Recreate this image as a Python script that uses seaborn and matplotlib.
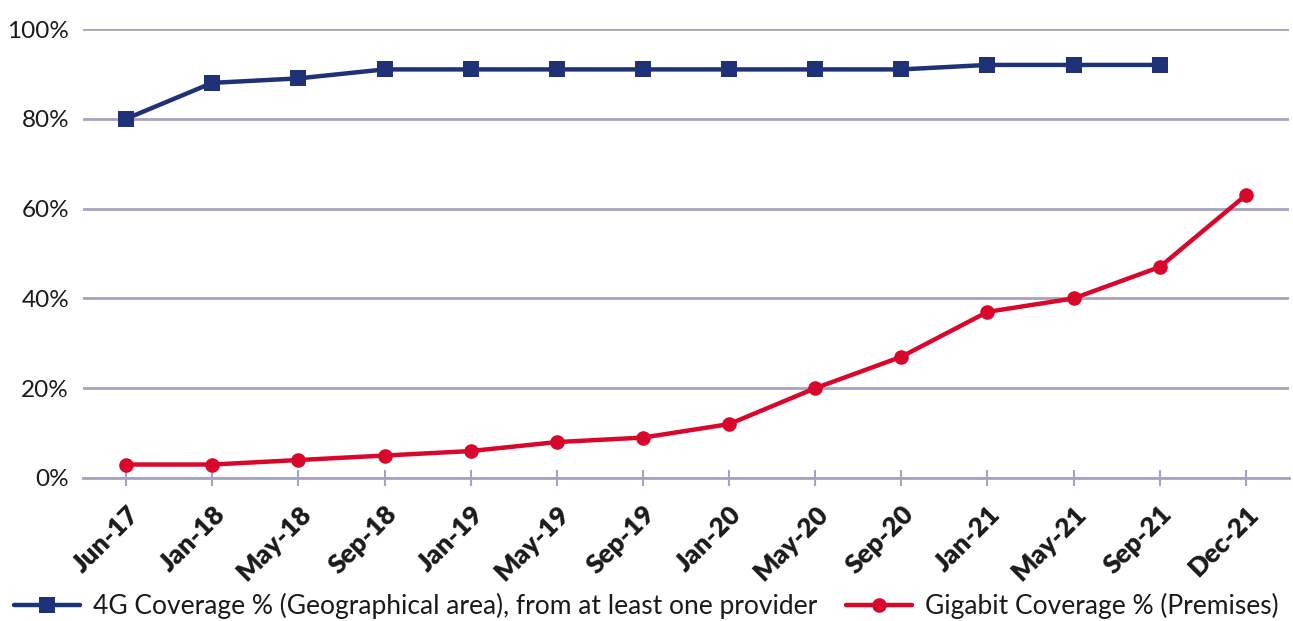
import numpy as np
import pandas as pd
import matplotlib
matplotlib.use("Agg")
import matplotlib.pyplot as plt
import seaborn as sns
from matplotlib.ticker import FuncFormatter

categories = ["Jun-17", "Jan-18", "May-18", "Sep-18", "Jan-19", "May-19", "Sep-19",
              "Jan-20", "May-20", "Sep-20", "Jan-21", "May-21", "Sep-21", "Dec-21"]
coverage_4g = [80, 88, 89, 91, 91, 91, 91, 91, 91, 91, 92, 92, 92]
gigabit = [3, 3, 4, 5, 6, 8, 9, 12, 20, 27, 37, 40, 47, 63]
label_4g = "4G Coverage % (Geographical area), from at least one provider"
label_gig = "Gigabit Coverage % (Premises)"
y_ticks = [0, 20, 40, 60, 80, 100]

sns.set_theme(style="white")
plt.rcParams["font.family"] = ["Lato", "DejaVu Sans"]

BLUE = "#1F3278"
RED = "#D9072B"
GRID = "#A6A2C2"
TEXT = "#1A1A1A"

df4 = pd.DataFrame({"x": np.arange(len(coverage_4g)), "y": coverage_4g})
dfg = pd.DataFrame({"x": np.arange(len(gigabit)), "y": gigabit})

fig = plt.figure(figsize=(12.93, 6.21), dpi=100)
ax = fig.add_axes([83/1293, 1-478/621, (1289-83)/1293, (478-29)/621])

sns.lineplot(data=df4, x="x", y="y", ax=ax, color=BLUE, linewidth=3.2,
             marker="s", markersize=11, markeredgewidth=0, label=label_4g, zorder=5)
sns.lineplot(data=dfg, x="x", y="y", ax=ax, color=RED, linewidth=3.2,
             marker="o", markersize=10.5, markeredgewidth=0, label=label_gig, zorder=5)

ax.set_xlim(-0.5, len(categories) - 0.5)
ax.set_ylim(0, 100)
ax.set_yticks(y_ticks)
ax.yaxis.set_major_formatter(FuncFormatter(lambda v, p: f"{int(v)}%"))
ax.set_xticks(np.arange(len(categories)))
ax.set_xticklabels(categories, rotation=45, ha="right", rotation_mode="anchor",
                   fontsize=19, fontweight="heavy", color=TEXT)
for t in ax.get_yticklabels():
    t.set_fontsize(17.5)
    t.set_color(TEXT)
ax.set_xlabel("")
ax.set_ylabel("")

for s in ["top", "right", "left"]:
    ax.spines[s].set_visible(False)
ax.spines["bottom"].set_color(GRID)
ax.spines["bottom"].set_linewidth(2)
ax.spines["bottom"].set_zorder(1)
ax.grid(axis="y", color=GRID, linewidth=2)
ax.grid(axis="x", visible=False)
ax.set_axisbelow(True)
ax.tick_params(axis="x", which="major", direction="inout", length=12, width=1.5,
               color=GRID, pad=11, bottom=True)
ax.tick_params(axis="y", length=0, pad=10)

ax.get_legend().remove()
handles, labels = ax.get_legend_handles_labels()
fig.legend(handles, labels, loc="center", bbox_to_anchor=(0.5, 1-606/621), ncol=2,
           frameon=False, fontsize=19, handlelength=2.5, columnspacing=1.1,
           handletextpad=0.5, labelcolor=TEXT, borderaxespad=0)

fig.savefig("out.png", dpi=100)
